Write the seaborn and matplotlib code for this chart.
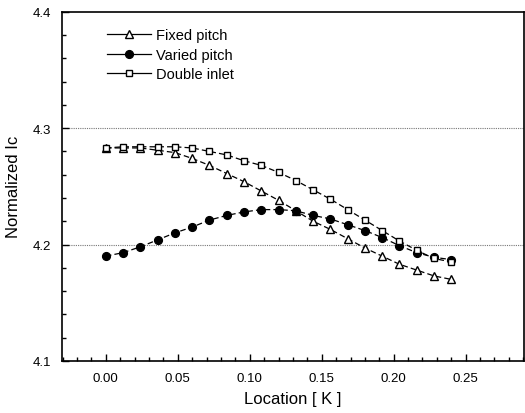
import pandas as pd
import matplotlib
matplotlib.use("Agg")
import matplotlib.pyplot as plt
from matplotlib.lines import Line2D
from matplotlib.ticker import MultipleLocator, FormatStrFormatter
import seaborn as sns

# Location [K]
location = [0.000, 0.012, 0.024, 0.036, 0.048, 0.060, 0.072, 0.084, 0.096, 0.108,
            0.120, 0.132, 0.144, 0.156, 0.168, 0.180, 0.192, 0.204, 0.216, 0.228, 0.240]

fixed_pitch = [4.283, 4.283, 4.283, 4.281, 4.279, 4.274, 4.268, 4.261, 4.254, 4.246,
               4.238, 4.229, 4.220, 4.213, 4.205, 4.197, 4.190, 4.183, 4.178, 4.173, 4.170]
varied_pitch = [4.190, 4.193, 4.198, 4.204, 4.210, 4.215, 4.221, 4.225, 4.228, 4.230,
                4.230, 4.229, 4.225, 4.222, 4.217, 4.212, 4.206, 4.199, 4.193, 4.189, 4.187]
double_inlet = [4.283, 4.284, 4.284, 4.284, 4.284, 4.283, 4.280, 4.277, 4.272, 4.268,
                4.262, 4.255, 4.247, 4.239, 4.230, 4.221, 4.212, 4.203, 4.195, 4.188, 4.185]

series = ["Fixed pitch", "Varied pitch", "Double inlet"]

df = pd.DataFrame({
    "Location": location * 3,
    "Ic": fixed_pitch + varied_pitch + double_inlet,
    "Series": sum([[s] * len(location) for s in series], []),
})

plt.rcParams["font.family"] = ["Liberation Sans", "DejaVu Sans"]

fig = plt.figure(figsize=(5.25, 4.14), dpi=100)
ax = fig.add_axes([0.118, 0.126, 0.880, 0.843])

# lignes horizontales de référence
for yv in [4.2, 4.3]:
    ax.axhline(yv, color="#777777", lw=0.8, ls=(0, (1, 1)), zorder=1)

markers = {"Fixed pitch": "^", "Varied pitch": "o", "Double inlet": "s"}
faces = {"Fixed pitch": "white", "Varied pitch": "black", "Double inlet": "white"}
sizes = {"Fixed pitch": 6.3, "Varied pitch": 5.6, "Double inlet": 5}

for s in series:
    sub = df[df["Series"] == s]
    sns.lineplot(data=sub, x="Location", y="Ic", ax=ax, color="black", lw=0.9,
                 linestyle=(0, (4.5, 2.5)), marker=markers[s], markersize=sizes[s],
                 markerfacecolor=faces[s], markeredgecolor="black", markeredgewidth=1,
                 zorder=3, legend=False)

handles = [Line2D([], [], color="black", lw=0.9, marker=markers[s], markersize=sizes[s],
                  markerfacecolor=faces[s], markeredgecolor="black") for s in series]
ax.legend(handles, series, loc="upper left", bbox_to_anchor=(0.097, 0.953),
          frameon=False, fontsize=10.5, handlelength=3.0, handletextpad=0.4,
          labelspacing=0.38, borderpad=0, borderaxespad=0)

ax.set_xlim(-0.0305, 0.2905)
ax.set_ylim(4.1, 4.4)
ax.xaxis.set_major_locator(MultipleLocator(0.05))
ax.xaxis.set_minor_locator(MultipleLocator(0.01))
ax.yaxis.set_major_locator(MultipleLocator(0.1))
ax.yaxis.set_minor_locator(MultipleLocator(0.02))
ax.xaxis.set_major_formatter(FormatStrFormatter("%.2f"))
ax.yaxis.set_major_formatter(FormatStrFormatter("%.1f"))
ax.tick_params(which="both", direction="in", top=False, right=False, labelsize=9.5, width=1)
ax.tick_params(which="major", length=5, pad=8)
ax.tick_params(which="minor", length=3)
for sp in ax.spines.values():
    sp.set_linewidth(1.2)

ax.set_xlabel("Location [ K ]", fontsize=12, labelpad=5)
ax.set_ylabel("Normalized Ic", fontsize=12, labelpad=8)

fig.savefig("out.png", dpi=100)
